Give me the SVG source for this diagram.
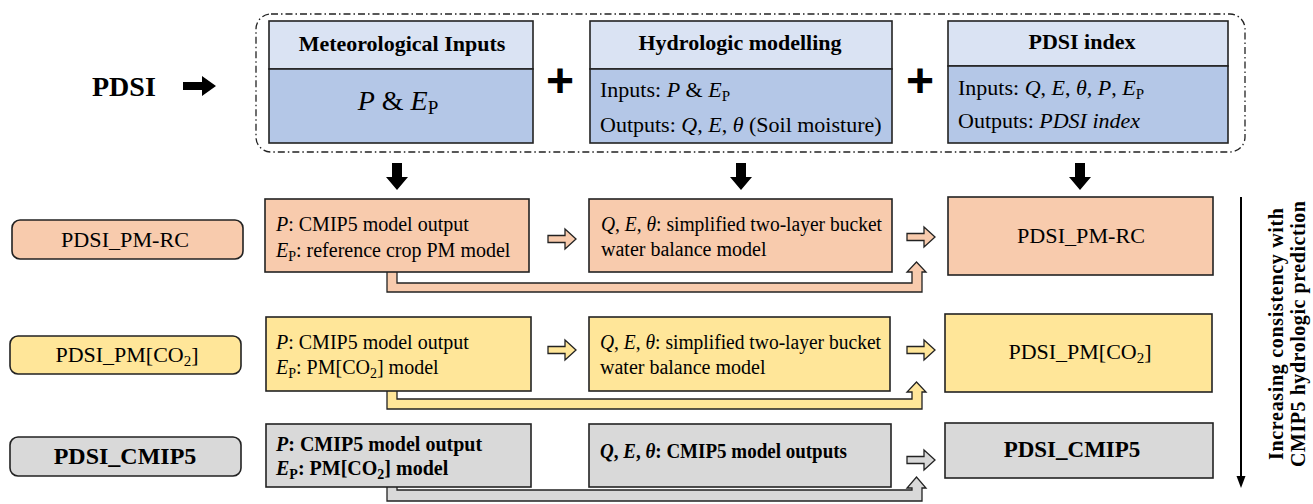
<svg xmlns="http://www.w3.org/2000/svg" width="1313" height="504" viewBox="0 0 1313 504">
<defs>
<style>
text { font-family: "Liberation Serif", "Times New Roman", serif; fill: #000; }
.box { stroke: #222; stroke-width: 1.6; }
.hdr { fill: #DAE3F3; }
.body { fill: #B4C7E7; }
.or { fill: #F8CBAD; }
.ye { fill: #FFE699; }
.gr { fill: #D9D9D9; }
.t { font-size: 20px; }
.tt { font-size: 22px; }
.h { font-size: 22px; font-weight: bold; }
.lbl { font-size: 22px; }
.b { font-weight: bold; }
.i { font-style: italic; }
.mid { text-anchor: middle; }
.conn { stroke: #222; stroke-width: 1.3; }
.plus { font-family: "Liberation Sans", Arial, sans-serif; font-size: 48px; font-weight: bold; text-anchor: middle; }
</style>
<!-- hollow right arrow, origin at tail centre -->
<path id="harrow" d="M0,-3.5 H17 V-10 L28,0 L17,10 V3.5 H0 Z"/>
<!-- solid down arrow, origin at top centre -->
<path id="darrow" d="M-5,0 H5 V14 H11 L0,27 L-11,14 H-5 Z"/>
</defs>

<!-- header: PDSI components -->
<g id="title">
<text x="92" y="96" font-size="28" font-weight="bold">PDSI</text>
<path d="M183,82 H202 V76 L216,86 L202,96 V90 H183 Z" fill="#000"/>
</g>

<rect id="frame" x="256" y="14" width="989" height="138" rx="15" fill="none" stroke="#222" stroke-width="1.3" stroke-dasharray="7 3 1.5 3"/>

<g id="met-inputs">
<rect class="box hdr" x="269" y="21" width="264" height="48"/>
<rect class="box body" x="269" y="69" width="264" height="74"/>
<text class="h mid" x="402" y="51">Meteorological Inputs</text>
<text x="398" y="110" font-size="28" class="mid"><tspan class="i">P</tspan> &amp; <tspan class="i">E</tspan><tspan font-size="19" dy="4">P</tspan></text>
</g>

<text class="plus" x="560" y="97">+</text>

<g id="hydro-model">
<rect class="box hdr" x="590" y="21" width="302" height="48"/>
<rect class="box body" x="590" y="69" width="302" height="74"/>
<text class="h mid" x="740" y="50">Hydrologic modelling</text>
<text class="tt" x="600" y="97">Inputs: <tspan class="i">P</tspan> &amp; <tspan class="i">E</tspan><tspan font-size="15" dy="4">P</tspan></text>
<text class="tt" x="600" y="132">Outputs: <tspan class="i">Q</tspan>, <tspan class="i">E</tspan>, <tspan class="i">θ</tspan> (Soil moisture)</text>
</g>

<text class="plus" x="920" y="97">+</text>

<g id="pdsi-index">
<rect class="box hdr" x="948" y="21" width="280" height="45"/>
<rect class="box body" x="948" y="66" width="280" height="77"/>
<text class="h mid" x="1082" y="49">PDSI index</text>
<text class="tt" x="958" y="95">Inputs: <tspan class="i">Q</tspan>, <tspan class="i">E</tspan>, <tspan class="i">θ</tspan>, <tspan class="i">P</tspan>, <tspan class="i">E</tspan><tspan font-size="15" dy="4">P</tspan></text>
<text class="tt" x="958" y="128">Outputs: <tspan class="i">PDSI index</tspan></text>
</g>

<!-- connectors -->
<g id="connectors">
<use href="#darrow" x="397" y="163" fill="#000"/>
<use href="#darrow" x="741" y="163" fill="#000"/>
<use href="#darrow" x="1080" y="163" fill="#000"/>

<!-- row 1 -->
<path class="conn or" d="M387,270 V292 H922 V272 H926 L916.5,262 L907,272 H912 V283 H397 V270 Z"/>
<use href="#harrow" x="548" y="239" class="conn or"/>
<use href="#harrow" x="907" y="237" class="conn or"/>
<!-- row 2 -->
<path class="conn ye" d="M387,388 V409 H922 V392 H926 L916.5,382 L907,392 H912 V399 H397 V388 Z"/>
<use href="#harrow" x="548" y="350" class="conn ye"/>
<use href="#harrow" x="907" y="350" class="conn ye"/>
<!-- row 3 -->
<path class="conn gr" d="M387,485 V501 H922 V488 H926 L916.5,477 L907,488 H912 V490 H397 V485 Z"/>
<use href="#harrow" x="907" y="460" class="conn gr"/>

<!-- consistency trend -->
<line x1="1241" y1="197" x2="1241" y2="478" stroke="#000" stroke-width="2"/>
<path d="M1236.5,476 H1245.5 L1241,488 Z" fill="#000"/>
</g>

<!-- row 1: PM-RC -->
<g id="pm-rc-label">
<rect class="box or" x="12" y="220" width="231" height="39" rx="8"/>
<text class="lbl mid" x="125" y="247" textLength="128" lengthAdjust="spacingAndGlyphs">PDSI_PM-RC</text>
</g>
<g id="pm-rc-inputs">
<rect class="box or" x="265" y="199" width="264" height="73"/>
<text class="t" x="276" y="231"><tspan class="i">P</tspan>: CMIP5 model output</text>
<text class="t" x="276" y="257"><tspan class="i">E</tspan><tspan font-size="14" dy="4">P</tspan><tspan dy="-4">: reference crop PM model</tspan></text>
</g>
<g id="pm-rc-hydro">
<rect class="box or" x="589" y="199" width="303" height="73"/>
<text class="t" x="601" y="231" textLength="281" lengthAdjust="spacingAndGlyphs"><tspan class="i">Q</tspan>, <tspan class="i">E</tspan>, <tspan class="i">θ</tspan>: simplified two-layer bucket</text>
<text class="t" x="601" y="256">water balance model</text>
</g>
<g id="pm-rc-index">
<rect class="box or" x="948" y="197" width="265" height="78"/>
<text class="lbl mid" x="1081" y="243" textLength="128" lengthAdjust="spacingAndGlyphs">PDSI_PM-RC</text>
</g>

<!-- row 2: PM[CO2] -->
<g id="pm-co2-label">
<rect class="box ye" x="10" y="336" width="231" height="38" rx="8"/>
<text class="lbl mid" x="127" y="362">PDSI_PM[CO<tspan font-size="15" dy="4">2</tspan><tspan dy="-4">]</tspan></text>
</g>
<g id="pm-co2-inputs">
<rect class="box ye" x="266" y="317" width="265" height="74"/>
<text class="t" x="276" y="349"><tspan class="i">P</tspan>: CMIP5 model output</text>
<text class="t" x="276" y="374"><tspan class="i">E</tspan><tspan font-size="14" dy="4">P</tspan><tspan dy="-4">: PM[CO</tspan><tspan font-size="14" dy="4">2</tspan><tspan dy="-4">] model</tspan></text>
</g>
<g id="pm-co2-hydro">
<rect class="box ye" x="589" y="317" width="301" height="74"/>
<text class="t" x="600" y="349" textLength="281" lengthAdjust="spacingAndGlyphs"><tspan class="i">Q</tspan>, <tspan class="i">E</tspan>, <tspan class="i">θ</tspan>: simplified two-layer bucket</text>
<text class="t" x="600" y="374">water balance model</text>
</g>
<g id="pm-co2-index">
<rect class="box ye" x="945" y="314" width="267" height="78"/>
<text class="lbl mid" x="1080" y="359">PDSI_PM[CO<tspan font-size="15" dy="4">2</tspan><tspan dy="-4">]</tspan></text>
</g>

<!-- row 3: CMIP5 -->
<g id="cmip5-label">
<rect class="box gr" x="10" y="437" width="231" height="39" rx="8"/>
<text class="mid b" font-size="24" x="125" y="464">PDSI_CMIP5</text>
</g>
<g id="cmip5-inputs">
<rect class="box gr" x="266" y="424" width="265" height="63"/>
<text class="t b" x="276" y="451"><tspan class="i">P</tspan>: CMIP5 model output</text>
<text class="t b" x="276" y="475"><tspan class="i">E</tspan><tspan font-size="14" dy="4">P</tspan><tspan dy="-4">: PM[CO</tspan><tspan font-size="14" dy="4">2</tspan><tspan dy="-4">] model</tspan></text>
</g>
<g id="cmip5-hydro">
<rect class="box gr" x="589" y="424" width="302" height="63"/>
<text class="t b" x="600" y="458" textLength="247" lengthAdjust="spacingAndGlyphs"><tspan class="i">Q</tspan>, <tspan class="i">E</tspan>, <tspan class="i">θ</tspan>: CMIP5 model outputs</text>
</g>
<g id="cmip5-index">
<rect class="box gr" x="945" y="423" width="268" height="55"/>
<text class="mid b" font-size="23" x="1072" y="457">PDSI_CMIP5</text>
</g>

<g id="trend-label" font-weight="bold" font-size="20">
<text class="mid" transform="translate(1283,334) rotate(-90)" textLength="252" lengthAdjust="spacing">Increasing consistency with</text>
<text class="mid" transform="translate(1305,334) rotate(-90)" textLength="266" lengthAdjust="spacing">CMIP5 hydrologic prediction</text>
</g>
</svg>
